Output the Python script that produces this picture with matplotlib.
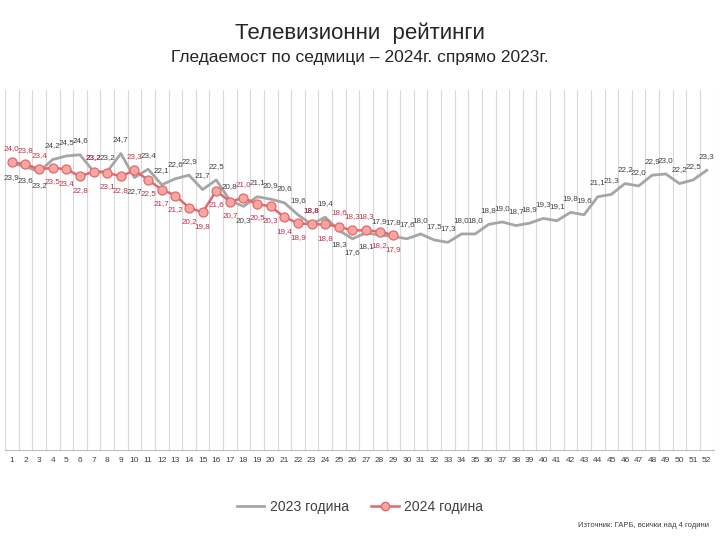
import matplotlib
matplotlib.use("Agg")
import matplotlib.pyplot as plt
from matplotlib.lines import Line2D
import numpy as np

plt.rcParams['font.family'] = ['Liberation Sans', 'DejaVu Sans']

weeks = list(range(1, 53))
ratings_2023 = [23.9, 23.6, 23.2, 24.2, 24.5, 24.6, 23.2, 23.2, 24.7, 22.7,
                23.4, 22.1, 22.6, 22.9, 21.7, 22.5, 20.8, 20.3, 21.1, 20.9,
                20.6, 19.6, 18.8, 19.4, 18.3, 17.6, 18.1, 17.9, 17.8, 17.6,
                18.0, 17.5, 17.3, 18.0, 18.0, 18.8, 19.0, 18.7, 18.9, 19.3,
                19.1, 19.8, 19.6, 21.1, 21.3, 22.2, 22.0, 22.9, 23.0, 22.2,
                22.5, 23.3]
ratings_2024 = [24.0, 23.8, 23.4, 23.5, 23.4, 22.8, 23.2, 23.1, 22.8, 23.3,
                22.5, 21.7, 21.2, 20.2, 19.8, 21.6, 20.7, 21.0, 20.5, 20.3,
                19.4, 18.9, 18.8, 18.8, 18.6, 18.3, 18.3, 18.2, 17.9]
weeks_2024 = weeks[:len(ratings_2024)]

# label placement (style): weeks whose labels go below / above the point
gray_below = {1, 2, 3, 10, 18, 25, 26, 27}
red_above = {1, 2, 3, 7, 10, 18, 23, 25, 26, 27}

GRAY = '#A6A6A6'
RED = '#E46670'
RED_FILL = '#F6A89F'
RED_TXT = '#C0304A'
GRAY_TXT = '#404040'

fig = plt.figure(figsize=(7.2, 5.4), dpi=100)
ax = fig.add_axes([0.007, 0.1667, 0.984, 0.6667])

ax.plot(weeks, ratings_2023, color=GRAY, lw=2.0, zorder=2)
ax.plot(weeks_2024, ratings_2024, color=RED, lw=1.8, marker='o', ms=6.5,
        mfc=RED_FILL, mec=RED, mew=0.9, zorder=3)

def fmt(v):
    return f"{v:.1f}".replace('.', ',')

OFF = 10
for w, v in zip(weeks, ratings_2023):
    off = -OFF if w in gray_below else OFF
    ax.annotate(fmt(v), (w, v), xytext=(0, off), textcoords='offset points',
                ha='center', va='center', fontsize=5.8, color=GRAY_TXT,
                zorder=4)
for w, v in zip(weeks_2024, ratings_2024):
    off = OFF if w in red_above else -OFF
    ax.annotate(fmt(v), (w, v), xytext=(0, off), textcoords='offset points',
                ha='center', va='center', fontsize=5.8, color=RED_TXT,
                zorder=5)

ax.set_xlim(0.5, 52.5)
ax.set_ylim(0, 30)
ax.set_yticks([])
ax.set_xticks(weeks)
ax.set_xticklabels([str(w) for w in weeks], fontsize=6, color='#404040')
ax.tick_params(axis='x', length=0, pad=5)
for b in np.arange(0.5, 53, 1):
    ax.axvline(b, color='#D9D9D9', lw=0.8, zorder=0)
for s in ['top', 'left', 'right']:
    ax.spines[s].set_visible(False)
ax.spines['bottom'].set_color('#BFBFBF')
ax.spines['bottom'].set_linewidth(0.8)

fig.text(0.5, 0.938, 'Телевизионни  рейтинги', ha='center', va='center',
         fontsize=16, color='#262626')
fig.text(0.5, 0.893, 'Гледаемост по седмици – 2024г. спрямо 2023г.',
         ha='center', va='center', fontsize=12.5, color='#262626')

handles = [Line2D([0], [0], color=GRAY, lw=2.0),
           Line2D([0], [0], color=RED, lw=1.8, marker='o', ms=6,
                  mfc=RED_FILL, mec=RED)]
fig.legend(handles, ['2023 година', '2024 година'], loc='center',
           bbox_to_anchor=(0.5, 0.062), ncol=2, frameon=False,
           fontsize=10, handlelength=2.0, handletextpad=0.4,
           columnspacing=1.6, labelcolor='#404040')

fig.text(0.985, 0.027, 'Източник: ГАРБ, всички над 4 години', ha='right',
         va='center', fontsize=5.5, color='#404040')

fig.savefig('out.png', dpi=100)
